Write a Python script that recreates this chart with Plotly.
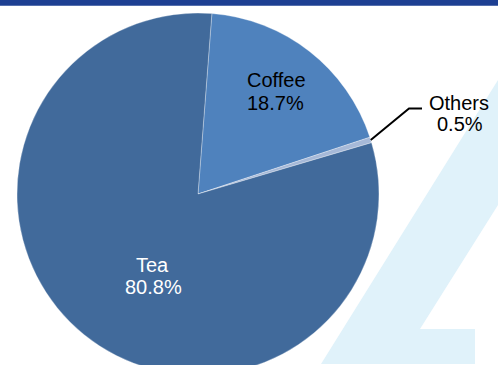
import math
import plotly.graph_objects as go

# Beverage share data
labels = ["Coffee", "Others", "Tea"]
values = [18.7, 0.5, 80.8]
colors = ["#4f82bd", "#a6b9d8", "#416a9b"]
start_angle = 4.4  # degrees clockwise from 12 o'clock

W, H = 498, 380
FONT = "Arial, Liberation Sans, sans-serif"

# pie geometry in pixels (square domain)
px_left, px_right, px_top, px_bottom = 17, 379, 13, 375


def fx(x):
    return x / W


def fy(y):
    return 1 - y / H


fig = go.Figure(
    go.Pie(
        labels=labels,
        values=values,
        marker=dict(colors=colors, line=dict(color="rgba(255,255,255,0.5)", width=0.6)),
        sort=False,
        direction="clockwise",
        rotation=start_angle,
        textinfo="none",
        hoverinfo="label+percent",
        showlegend=False,
        domain=dict(x=[fx(px_left), fx(px_right)], y=[fy(px_bottom), fy(px_top)]),
    )
)

# header band and decorative backdrop glyph
shapes = [
    dict(type="rect", xref="paper", yref="paper", x0=0, x1=1, y0=fy(5.7), y1=fy(0),
         fillcolor="#1d3f92", line=dict(width=0), layer="below"),
]
glyph = [(498, 80), (321, 364), (475, 364), (475, 329), (420, 329), (498, 205)]
path = "M " + " L ".join(f"{fx(x):.5f},{fy(y):.5f}" for x, y in glyph) + " Z"
shapes.append(dict(type="path", xref="paper", yref="paper", path=path,
                   fillcolor="#e0f2fa", line=dict(width=0), layer="below"))

# leader line for the smallest slice, starting at its mid-angle on the rim
cx = (px_left + px_right) / 2
cy = (px_top + px_bottom) / 2
r = (px_right - px_left) / 2
total = sum(values)
mid = start_angle + (values[0] + values[1] / 2) / total * 360
a = math.radians(mid)
sx, sy = cx + r * math.sin(a), cy - r * math.cos(a)
elbow = (409, 108.5)
end = (422, 108.5)
shapes.append(dict(type="path", xref="paper", yref="paper",
                   path=f"M {fx(sx):.5f},{fy(sy):.5f} L {fx(elbow[0]):.5f},{fy(elbow[1]):.5f} "
                        f"L {fx(end[0]):.5f},{fy(end[1]):.5f}",
                   line=dict(color="black", width=2), layer="above"))

# slice labels: name line and percentage line
label_pos = {
    "Coffee": ((276, 80.5), (275, 102.5), "black"),
    "Tea": ((152.5, 264.5), (153.5, 286.5), "white"),
    "Others": ((458.7, 102.5), (460, 124.3), "black"),
}
annotations = []
for lab, val in zip(labels, values):
    (x1, y1), (x2, y2), col = label_pos[lab]
    for (x, y), txt in (((x1, y1), lab), ((x2, y2), f"{val:.1f}%")):
        annotations.append(dict(x=fx(x), y=fy(y), xref="paper", yref="paper",
                                text=txt, showarrow=False, xanchor="center", yanchor="middle",
                                font=dict(family=FONT, size=20, color=col)))

fig.update_layout(
    width=W, height=H,
    margin=dict(l=0, r=0, t=0, b=0),
    paper_bgcolor="white", plot_bgcolor="white",
    shapes=shapes, annotations=annotations,
)

fig.write_html("out.html", post_script="document.body.style.overflow='hidden';"
                                       "document.documentElement.style.overflow='hidden';")
